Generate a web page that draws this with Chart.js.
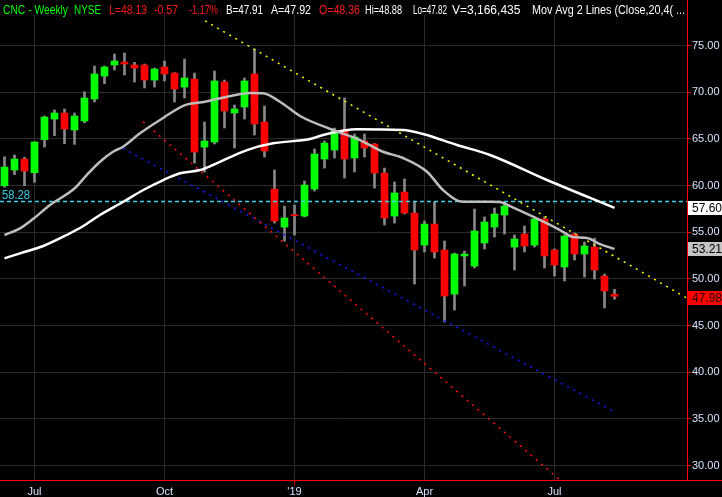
<!DOCTYPE html>
<html>
<head>
<meta charset="utf-8">
<title>CNC - Weekly</title>
<script src="https://cdn.jsdelivr.net/npm/chart.js@4.4.1/dist/chart.umd.min.js"></script>
<style>
  html, body { margin: 0; padding: 0; background: #000; }
  canvas { display: block; }
</style>
</head>
<body>
<canvas id="priceChart" width="722" height="497"></canvas>
<script>
// weekly candles, Jun 2018 -> Aug 2019 (one entry per week)
const opens  = [59.97, 61.66, 62.84, 61.37, 64.91, 67.12, 67.77, 65.95, 66.91, 69.27,
                71.73, 72.91, 73.23, 72.91, 72.91, 71.30, 72.70, 72.05, 70.55, 71.41,
                64.12, 64.66, 71.09, 67.77, 68.41, 71.95, 66.80, 59.62, 55.55, 56.84,
                56.73, 59.62, 62.84, 63.80, 65.95, 62.95, 64.77, 64.45, 61.34, 56.73,
                59.30, 57.05, 53.62, 55.87, 53.09, 48.37, 52.45, 51.37, 53.84, 55.55,
                56.84, 53.41, 54.80, 53.62, 56.41, 53.09, 51.27, 54.80, 52.66, 53.41,
                50.30, 48.36];
const highs  = [63.08, 63.27, 63.02, 64.70, 67.45, 68.09, 68.20, 67.77, 70.05, 72.80,
                72.80, 74.09, 74.20, 73.20, 73.02, 72.59, 73.34, 72.10, 73.55, 72.05,
                66.80, 72.27, 71.30, 68.63, 71.52, 74.62, 68.52, 61.66, 57.80, 57.91,
                60.48, 63.91, 64.77, 66.16, 69.38, 65.52, 65.52, 64.50, 61.87, 60.38,
                60.70, 58.23, 56.20, 58.23, 54.05, 52.77, 52.98, 57.48, 56.63, 57.59,
                58.23, 54.70, 55.66, 56.63, 56.63, 53.20, 54.70, 54.91, 53.95, 54.37,
                50.52, 48.88];
const lows   = [59.83, 61.16, 59.98, 60.34, 64.12, 65.34, 64.48, 64.41, 66.73, 68.95,
                70.91, 72.38, 71.84, 71.09, 70.45, 70.55, 71.20, 68.95, 69.38, 62.41,
                61.45, 64.45, 66.16, 64.02, 67.12, 65.41, 63.05, 55.98, 54.05, 54.70,
                56.63, 59.41, 61.87, 62.95, 60.80, 61.45, 63.05, 59.73, 55.77, 55.98,
                56.95, 49.45, 52.88, 52.23, 45.38, 46.66, 49.23, 51.16, 53.20, 54.48,
                54.80, 50.95, 52.88, 53.41, 51.16, 50.30, 49.77, 52.02, 50.20, 49.98,
                46.88, 47.82];
const closes = [61.98, 62.84, 61.55, 64.66, 67.34, 67.77, 66.05, 67.45, 69.38, 71.95,
                72.70, 73.34, 73.02, 72.59, 71.30, 72.48, 71.95, 70.34, 71.52, 63.59,
                64.77, 71.20, 67.98, 68.20, 71.20, 66.59, 63.70, 56.20, 56.52, 56.77,
                60.05, 63.37, 64.55, 65.84, 62.84, 65.20, 64.02, 61.34, 56.52, 59.20,
                57.05, 53.09, 55.87, 52.88, 48.16, 52.66, 52.66, 55.12, 56.09, 56.95,
                57.80, 54.27, 53.52, 56.41, 52.45, 51.48, 54.59, 52.66, 53.52, 50.95,
                48.70, 48.13];

// moving averages (week position, price)
const ma20Weeks  = [0, 1.55, 2.85, 4.55, 7.05, 8.22, 9.55, 10.85, 11.85, 13.55, 15.55, 18.05,
                    20.05, 22.25, 24.55, 25.85, 27.55, 29.55, 32.85, 35.55, 37.85, 39.85,
                    42.25, 43.85, 45.85, 48.55, 49.55, 50.55, 52.85, 55.55, 56.85, 58.25,
                    59.55, 61];
const ma20Values = [54.70, 55.41, 56.41, 57.91, 59.73, 61.12, 62.55, 63.62, 64.16, 65.59, 67.02, 68.62,
                    68.98, 69.51, 69.91, 69.88, 68.98, 67.45, 65.95, 64.87, 63.62, 62.95,
                    61.48, 59.52, 58.26, 58.26, 58.23, 57.80, 56.66, 55.23, 54.48, 54.37,
                    53.73, 53.21];
const ma40Weeks  = [0, 1.55, 3.88, 6.22, 7.88, 9.55, 11.88, 13.88, 15.88, 17.55, 19.55, 20.85,
                    24.25, 26.85, 30.55, 31.85, 35.25, 39.85, 41.85, 45.25, 48.55, 54.25, 61];
const ma40Values = [52.20, 52.73, 53.52, 54.70, 55.66, 56.84, 58.26, 59.52, 60.59, 61.31, 61.66, 62.20,
                    63.80, 64.52, 64.98, 65.41, 66.02, 65.95, 65.52, 64.34, 63.27, 60.59, 57.60];

// drawn trend lines (start week, start price, end week, end price)
const yellowTrend = [20.05, 77.63, 68.15, 48.00];
const redTrend    = [13.85, 66.84, 55.55, 28.45];
const blueTrend   = [11.85, 63.99, 61.05, 35.73];
const cyanLevel   = 58.28;

const xTickWeeks  = [3, 16, 29, 42, 55];
const xTickLabels = ['Jul', 'Oct', "'19", 'Apr', 'Jul'];
const yTicks      = [30, 35, 40, 45, 50, 55, 60, 65, 70, 75];

const lastMa40 = 57.60, lastMa20 = 53.21, lastPrice = 47.98;

const header = [
  ['CNC - Weekly', '#00ff00'], ['NYSE', '#00ff00'], ['L=48.13', '#ff1a1a'], ['-0.57', '#ff1a1a'],
  ['-1.17%', '#ff1a1a'], ['B=47.91', '#ffffff'], ['A=47.92', '#ffffff'], ['O=48.36', '#ff1a1a'],
  ['Hi=48.88', '#ffffff'], ['Lo=47.82', '#ffffff'], ['V=3,166,435', '#ffffff'],
  ['Mov Avg 2 Lines (Close,20,4( ...', '#ffffff']
];

const GREEN = '#00ff00';
const RED = '#ff0000';
const AXIS_TEXT = '#d4e2ff';
const GRID = '#2b2b2b';
const CYAN = '#3cd2ea';
const X_MIN = -0.45, X_MAX = 68.25;

const weekIdx = opens.map((_, i) => i);
const toPoints = (xs, ys) => xs.map((x, i) => ({ x: x, y: ys[i] }));
const trendPoints = t => [{ x: t[0], y: t[1] }, { x: t[2], y: t[3] }];

const overlay = {
  id: 'overlay',
  afterDraw(chart) {
    const { ctx, chartArea, scales: { y } } = chart;
    ctx.save();

    // header line
    const headerX = [3, 74, 109, 154, 189, 226, 271, 319, 365, 413, 452, 532];
    const headerW = [65, 27, 38, 24, 29, 37, 40, 41, 37, 34, 70, 153];
    ctx.font = "12px 'Liberation Sans', Arial, sans-serif";
    ctx.textBaseline = 'alphabetic';
    ctx.textAlign = 'left';
    header.forEach(([text, color], i) => {
      ctx.fillStyle = color;
      ctx.fillText(text, headerX[i], 13.5, headerW[i]);
    });

    // axis lines run past the plot: right axis up through the header, bottom axis under the labels
    ctx.strokeStyle = RED;
    ctx.lineWidth = 1;
    ctx.beginPath();
    ctx.moveTo(chartArea.right + 0.5, 0);
    ctx.lineTo(chartArea.right + 0.5, chartArea.top);
    ctx.moveTo(chartArea.right, chartArea.bottom + 0.5);
    ctx.lineTo(chart.width, chartArea.bottom + 0.5);
    ctx.stroke();

    // level label on the left
    ctx.font = "13px 'Liberation Sans', Arial, sans-serif";
    ctx.fillStyle = CYAN;
    ctx.fillText(cyanLevel.toFixed(2), 2, y.getPixelForValue(cyanLevel) - 3, 28);

    // price boxes on the axis
    const boxes = [[lastMa40, '#ffffff', '#000000'], [lastMa20, '#c4c4c4', '#000000'], [lastPrice, '#ff0000', '#2a0000']];
    ctx.font = "12px 'Liberation Sans', Arial, sans-serif";
    ctx.textBaseline = 'middle';
    boxes.forEach(([v, bg, fg]) => {
      const py = Math.round(y.getPixelForValue(v));
      ctx.fillStyle = bg;
      ctx.fillRect(chartArea.right + 1, py - 7, 40, 14);
      ctx.fillStyle = fg;
      ctx.fillText(v.toFixed(2), chartArea.right + 5, py + 1, 30);
    });
    ctx.restore();
  }
};

new Chart(document.getElementById('priceChart'), {
  type: 'bar',
  data: {
    datasets: [
      {
        label: 'MA 20',
        type: 'line',
        data: toPoints(ma20Weeks, ma20Values),
        borderColor: '#bdbdbd',
        borderWidth: 2.5,
        pointRadius: 0,
        cubicInterpolationMode: 'monotone',
        order: 1
      },
      {
        label: 'MA 40',
        type: 'line',
        data: toPoints(ma40Weeks, ma40Values),
        borderColor: '#ffffff',
        borderWidth: 2.5,
        pointRadius: 0,
        cubicInterpolationMode: 'monotone',
        order: 1
      },
      {
        label: 'Trend yellow',
        type: 'line',
        data: trendPoints(yellowTrend),
        borderColor: '#ffff00',
        borderWidth: 1.5,
        borderDash: [2, 5],
        pointRadius: 0,
        order: 2
      },
      {
        label: 'Trend red',
        type: 'line',
        data: trendPoints(redTrend),
        borderColor: '#ff1010',
        borderWidth: 1.5,
        borderDash: [2, 5],
        pointRadius: 0,
        order: 2
      },
      {
        label: 'Trend blue',
        type: 'line',
        data: trendPoints(blueTrend),
        borderColor: '#1818ff',
        borderWidth: 1.5,
        borderDash: [2, 5],
        pointRadius: 0,
        order: 2
      },
      {
        label: 'Level',
        type: 'line',
        data: [{ x: X_MIN, y: cyanLevel }, { x: X_MAX, y: cyanLevel }],
        borderColor: CYAN,
        borderWidth: 1.5,
        borderDash: [4, 3],
        pointRadius: 0,
        order: 2
      },
      {
        label: 'Body',
        data: weekIdx.map(i => ({ x: i, y: [opens[i], closes[i]] })),
        backgroundColor: weekIdx.map(i => closes[i] >= opens[i] ? GREEN : RED),
        barThickness: 7,
        minBarLength: 1,
        grouped: false,
        order: 3
      },
      {
        label: 'Wick',
        data: weekIdx.map(i => ({ x: i, y: [lows[i], highs[i]] })),
        backgroundColor: '#888888',
        barThickness: 2,
        grouped: false,
        order: 4
      }
    ]
  },
  options: {
    responsive: false,
    devicePixelRatio: 1,
    animation: false,
    layout: { padding: { top: 15, left: 0, right: 0, bottom: 0 } },
    plugins: {
      legend: { display: false },
      tooltip: { enabled: false }
    },
    scales: {
      x: {
        type: 'linear',
        min: X_MIN,
        max: X_MAX,
        offset: false,
        afterBuildTicks: s => { s.ticks = xTickWeeks.map(v => ({ value: v })); },
        afterFit: s => { s.height = 17; },
        ticks: {
          autoSkip: false,
          maxRotation: 0,
          padding: 0,
          color: AXIS_TEXT,
          font: { family: "'Liberation Sans', Arial, sans-serif", size: 11 },
          callback: v => xTickLabels[xTickWeeks.indexOf(v)]
        },
        grid: {
          offset: false,
          color: GRID,
          tickLength: 5,
          tickColor: c => (c.tick && c.tick.value === 29) ? RED : 'rgba(0,0,0,0)'
        },
        border: { color: RED, width: 1 }
      },
      y: {
        position: 'right',
        min: 28.45,
        max: 78.27,
        afterBuildTicks: s => { s.ticks = yTicks.map(v => ({ value: v })); },
        afterFit: s => { s.width = 35; },
        ticks: {
          padding: 1,
          color: AXIS_TEXT,
          font: { family: "'Liberation Sans', Arial, sans-serif", size: 11 },
          callback: v => v.toFixed(2)
        },
        grid: { color: GRID, tickLength: 4, tickColor: RED },
        border: { color: RED, width: 1 }
      }
    }
  },
  plugins: [overlay]
});
</script>
</body>
</html>
